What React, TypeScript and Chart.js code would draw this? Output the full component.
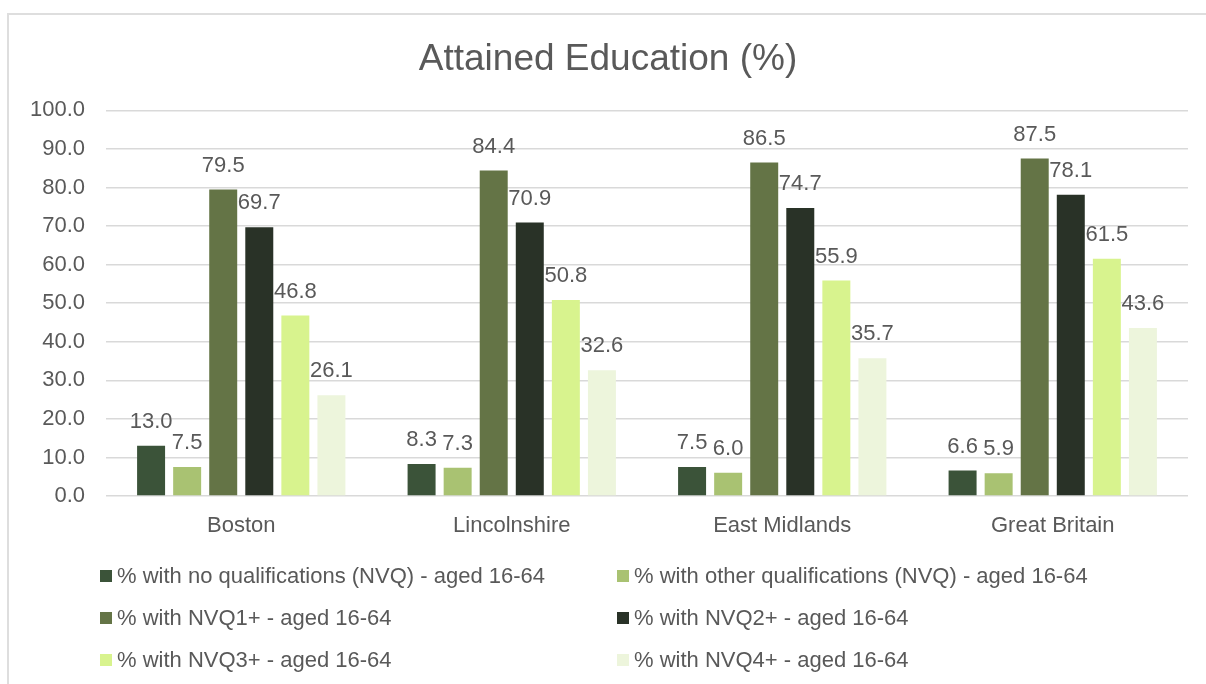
import React, { useEffect, useRef } from "react";
import { Chart, registerables } from "chart.js";

Chart.register(...registerables);

const regions = ["Boston", "Lincolnshire", "East Midlands", "Great Britain"];

const seriesNames = [
  "% with no qualifications (NVQ) - aged 16-64",
  "% with other qualifications (NVQ) - aged 16-64",
  "% with NVQ1+ - aged 16-64",
  "% with NVQ2+ - aged 16-64",
  "% with NVQ3+ - aged 16-64",
  "% with NVQ4+ - aged 16-64",
];

const noQualifications = [13.0, 8.3, 7.5, 6.6];
const otherQualifications = [7.5, 7.3, 6.0, 5.9];
const nvq1Plus = [79.5, 84.4, 86.5, 87.5];
const nvq2Plus = [69.7, 70.9, 74.7, 78.1];
const nvq3Plus = [46.8, 50.8, 55.9, 61.5];
const nvq4Plus = [26.1, 32.6, 35.7, 43.6];

const seriesValues = [noQualifications, otherQualifications, nvq1Plus, nvq2Plus, nvq3Plus, nvq4Plus];
const seriesColors = ["#3b5339", "#a9c272", "#647446", "#293227", "#d8f38e", "#edf5dc"];

const FONT = "'Liberation Sans', Arial, sans-serif";
const TEXT_COLOR = "#595959";

// Writes each bar's value just above its top edge.
const valueLabels = {
  id: "valueLabels",
  afterDatasetsDraw(chart: any) {
    const ctx = chart.ctx;
    ctx.save();
    ctx.font = `22px ${FONT}`;
    ctx.fillStyle = TEXT_COLOR;
    ctx.textAlign = "center";
    ctx.textBaseline = "middle";
    chart.data.datasets.forEach((ds: any, i: number) => {
      const meta = chart.getDatasetMeta(i);
      meta.data.forEach((bar: any, j: number) => {
        const v = ds.data[j] as number;
        ctx.fillText(v.toFixed(1), bar.x, bar.y - 24);
      });
    });
    ctx.restore();
  },
};

// Two-column legend under the category labels.
const gridLegend = {
  id: "gridLegend",
  afterDraw(chart: any) {
    const ctx = chart.ctx;
    const colX = [100, 617];
    const rowY = [576, 618, 660];
    ctx.save();
    ctx.font = `22px ${FONT}`;
    ctx.textAlign = "left";
    ctx.textBaseline = "middle";
    chart.data.datasets.forEach((ds: any, i: number) => {
      const x = colX[i % 2];
      const y = rowY[Math.floor(i / 2)];
      ctx.fillStyle = ds.backgroundColor;
      ctx.fillRect(x, y - 6, 12, 12);
      ctx.fillStyle = TEXT_COLOR;
      ctx.fillText(ds.label, x + 17, y + 1);
    });
    ctx.restore();
  },
};

export default function App() {
  const canvasRef = useRef<HTMLCanvasElement | null>(null);

  useEffect(() => {
    if (!canvasRef.current) return;
    const chart = new Chart(canvasRef.current, {
      type: "bar",
      data: {
        labels: regions,
        datasets: seriesNames.map((name, i) => ({
          label: name,
          data: seriesValues[i],
          backgroundColor: seriesColors[i],
          borderWidth: 0,
          categoryPercentage: 0.8,
          barPercentage: 0.776,
        })),
      },
      options: {
        responsive: false,
        animation: false,
        layout: { padding: { left: 28, right: 18, top: 0, bottom: 0 } },
        plugins: {
          legend: { display: false },
          tooltip: { enabled: false },
          title: {
            display: true,
            text: "Attained Education (%)",
            color: TEXT_COLOR,
            font: { family: FONT, size: 37, weight: "normal" },
            padding: { top: 38, bottom: 28 },
          },
        },
        scales: {
          x: {
            grid: { display: false },
            border: { display: false },
            ticks: {
              color: TEXT_COLOR,
              font: { family: FONT, size: 22 },
              padding: 9,
            },
            afterFit(scale: any) {
              scale.height = 188;
            },
          },
          y: {
            min: 0,
            max: 100,
            border: { display: false },
            grid: { color: "#d9d9d9", lineWidth: 1.5, drawTicks: false },
            ticks: {
              stepSize: 10,
              color: TEXT_COLOR,
              font: { family: FONT, size: 22 },
              padding: 21,
              callback: (v: any) => Number(v).toFixed(1),
            },
            afterFit(scale: any) {
              scale.width = 78;
            },
          },
        },
      },
      plugins: [valueLabels, gridLegend],
    });
    return () => chart.destroy();
  }, []);

  return (
    <div
      style={{
        position: "fixed",
        left: 0,
        top: 0,
        width: 1206,
        height: 684,
        overflow: "hidden",
        background: "#ffffff",
      }}
    >
      <div
        style={{
          position: "absolute",
          left: 7,
          top: 13,
          width: 1300,
          height: 800,
          borderTop: "2px solid #dedede",
          borderLeft: "2px solid #dedede",
        }}
      />
      <canvas
        ref={canvasRef}
        width={1206}
        height={684}
        style={{ position: "absolute", left: 0, top: 0, width: 1206, height: 684 }}
      />
    </div>
  );
}
